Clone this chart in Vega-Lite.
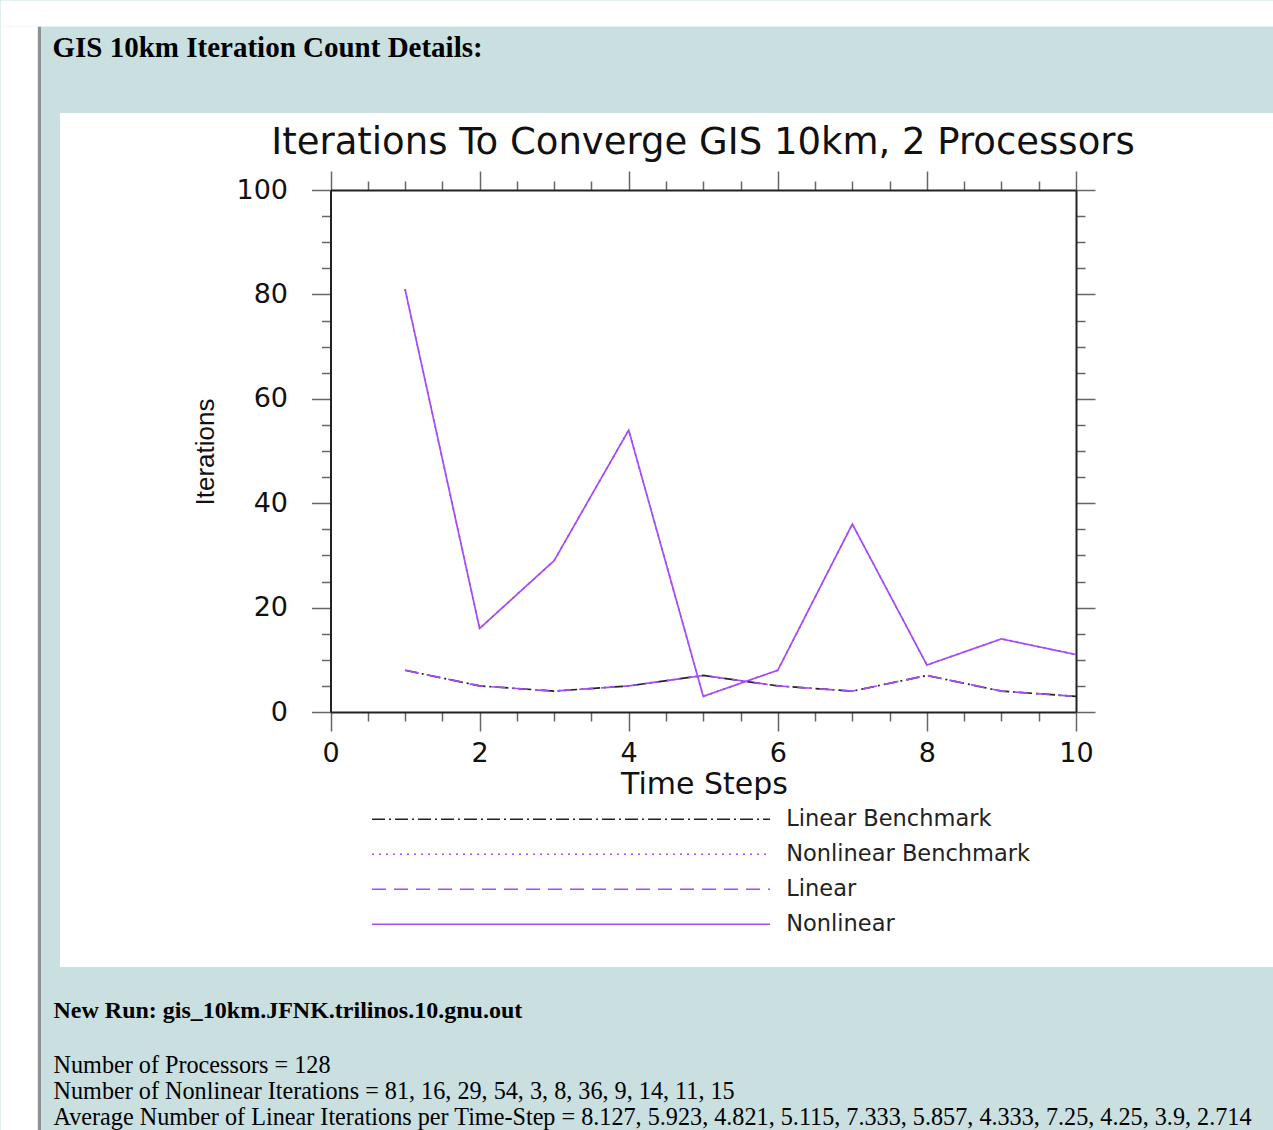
{
  "$schema": "https://vega.github.io/schema/vega-lite/v6.json",
  "autosize": {"type": "none"},
  "width": 1213,
  "height": 854,
  "padding": {"left": 60, "top": 113, "right": 0, "bottom": 163},
  "background": "#c9dfe0",
  "config": {
    "view": {"fill": "white", "stroke": null},
    "legend": {
      "orient": "none",
      "legendX": 400,
      "legendY": 695,
      "padding": 0,
      "title": null,
      "symbolType": "M-39.8,0H39.8",
      "symbolSize": 100,
      "symbolStrokeWidth": 1.6,
      "symbolOffset": 99.75,
      "labelOffset": 204,
      "labelLimit": 0,
      "labelFont": "DejaVu Sans",
      "labelFontSize": 22.5,
      "labelColor": "#222222",
      "rowPadding": 12
    },
    "axis": {
      "domainColor": "#222222",
      "domainWidth": 2,
      "tickColor": "#666666",
      "tickWidth": 1.5,
      "labelFont": "DejaVu Sans",
      "labelFontSize": 27,
      "labelColor": "#111111",
      "labelFlush": false,
      "labelOverlap": false,
      "labelBound": false,
      "grid": false,
      "titleColor": "#111111"
    }
  },
  "data": {
    "values": [
      {"series": "Linear Benchmark", "step": 1, "value": 8},
      {"series": "Linear Benchmark", "step": 2, "value": 5},
      {"series": "Linear Benchmark", "step": 3, "value": 4},
      {"series": "Linear Benchmark", "step": 4, "value": 5},
      {"series": "Linear Benchmark", "step": 5, "value": 7},
      {"series": "Linear Benchmark", "step": 6, "value": 5},
      {"series": "Linear Benchmark", "step": 7, "value": 4},
      {"series": "Linear Benchmark", "step": 8, "value": 7},
      {"series": "Linear Benchmark", "step": 9, "value": 4},
      {"series": "Linear Benchmark", "step": 10, "value": 3},
      {"series": "Nonlinear Benchmark", "step": 1, "value": 81},
      {"series": "Nonlinear Benchmark", "step": 2, "value": 16},
      {"series": "Nonlinear Benchmark", "step": 3, "value": 29},
      {"series": "Nonlinear Benchmark", "step": 4, "value": 54},
      {"series": "Nonlinear Benchmark", "step": 5, "value": 3},
      {"series": "Nonlinear Benchmark", "step": 6, "value": 8},
      {"series": "Nonlinear Benchmark", "step": 7, "value": 36},
      {"series": "Nonlinear Benchmark", "step": 8, "value": 9},
      {"series": "Nonlinear Benchmark", "step": 9, "value": 14},
      {"series": "Nonlinear Benchmark", "step": 10, "value": 11},
      {"series": "Linear", "step": 1, "value": 8},
      {"series": "Linear", "step": 2, "value": 5},
      {"series": "Linear", "step": 3, "value": 4},
      {"series": "Linear", "step": 4, "value": 5},
      {"series": "Linear", "step": 5, "value": 7},
      {"series": "Linear", "step": 6, "value": 5},
      {"series": "Linear", "step": 7, "value": 4},
      {"series": "Linear", "step": 8, "value": 7},
      {"series": "Linear", "step": 9, "value": 4},
      {"series": "Linear", "step": 10, "value": 3},
      {"series": "Nonlinear", "step": 1, "value": 81},
      {"series": "Nonlinear", "step": 2, "value": 16},
      {"series": "Nonlinear", "step": 3, "value": 29},
      {"series": "Nonlinear", "step": 4, "value": 54},
      {"series": "Nonlinear", "step": 5, "value": 3},
      {"series": "Nonlinear", "step": 6, "value": 8},
      {"series": "Nonlinear", "step": 7, "value": 36},
      {"series": "Nonlinear", "step": 8, "value": 9},
      {"series": "Nonlinear", "step": 9, "value": 14},
      {"series": "Nonlinear", "step": 10, "value": 11}
    ]
  },
  "layer": [
    {
      "mark": {"type": "line", "strokeWidth": 1.7},
      "encoding": {
        "x": {
          "field": "step",
          "type": "quantitative",
          "scale": {"domain": [0, 10], "range": [270.5, 1016], "nice": false, "zero": false},
          "axis": {
            "orient": "bottom",
            "offset": -255,
            "values": [0, 0.5, 1, 1.5, 2, 2.5, 3, 3.5, 4, 4.5, 5, 5.5, 6, 6.5, 7, 7.5, 8, 8.5, 9, 9.5, 10],
            "labelExpr": "datum.value % 2 === 0 ? format(datum.value, 'd') : ''",
            "tickSize": {"condition": {"test": "datum.value % 2 === 0", "value": 19}, "value": 9},
            "labelPadding": 9,
            "title": "Time Steps",
            "titleFont": "DejaVu Sans",
            "titleFontSize": 30,
            "titleFontWeight": "normal",
            "titleX": 644,
            "titleY": 81,
            "titleAlign": "center",
            "titleBaseline": "alphabetic"
          }
        },
        "y": {
          "field": "value",
          "type": "quantitative",
          "scale": {"domain": [0, 100], "range": [599, 77], "nice": false, "zero": false},
          "axis": {
            "orient": "left",
            "offset": -270.5,
            "values": [0, 5, 10, 15, 20, 25, 30, 35, 40, 45, 50, 55, 60, 65, 70, 75, 80, 85, 90, 95, 100],
            "labelExpr": "datum.value % 20 === 0 ? datum.label : ''",
            "tickSize": {"condition": {"test": "datum.value % 20 === 0", "value": 19}, "value": 9},
            "labelPadding": 24,
            "title": "Iterations",
            "titleFont": "Liberation Sans",
            "titleFontSize": 26,
            "titleFontWeight": "normal",
            "titleAngle": -90,
            "titleX": -117.5,
            "titleY": 338.5,
            "titleAlign": "center",
            "titleBaseline": "alphabetic"
          }
        },
        "stroke": {
          "field": "series",
          "type": "nominal",
          "scale": {
            "domain": ["Linear Benchmark", "Nonlinear Benchmark", "Linear", "Nonlinear"],
            "range": ["#222222", "#a44cf5", "#a44cf5", "#a44cf5"]
          },
          "legend": {"title": null}
        },
        "strokeDash": {
          "field": "series",
          "type": "nominal",
          "scale": {
            "domain": ["Linear Benchmark", "Nonlinear Benchmark", "Linear", "Nonlinear"],
            "range": [[13, 4, 2, 4], [2, 5], [14, 8], [1, 0]]
          },
          "legend": {"title": null}
        }
      }
    },
    {
      "mark": {"type": "line", "opacity": 0},
      "encoding": {
        "x": {
          "field": "step",
          "type": "quantitative",
          "scale": {"domain": [0, 10], "range": [270.5, 1016], "nice": false, "zero": false},
          "axis": {
            "orient": "top",
            "offset": -77,
            "values": [0, 0.5, 1, 1.5, 2, 2.5, 3, 3.5, 4, 4.5, 5, 5.5, 6, 6.5, 7, 7.5, 8, 8.5, 9, 9.5, 10],
            "labels": false,
            "tickSize": {"condition": {"test": "datum.value % 2 === 0", "value": 19}, "value": 9},
            "title": "Iterations To Converge GIS 10km, 2 Processors",
            "titleFont": "DejaVu Sans",
            "titleFontSize": 37,
            "titleFontWeight": "normal",
            "titleX": 642.5,
            "titleY": -37,
            "titleAlign": "center",
            "titleBaseline": "alphabetic"
          }
        },
        "y": {
          "field": "value",
          "type": "quantitative",
          "scale": {"domain": [0, 100], "range": [599, 77], "nice": false, "zero": false},
          "axis": {
            "orient": "right",
            "offset": -197,
            "values": [0, 5, 10, 15, 20, 25, 30, 35, 40, 45, 50, 55, 60, 65, 70, 75, 80, 85, 90, 95, 100],
            "labels": false,
            "tickSize": {"condition": {"test": "datum.value % 20 === 0", "value": 19}, "value": 9},
            "title": "New Run: gis_10km.JFNK.trilinos.10.gnu.out",
            "titleFont": "Liberation Serif",
            "titleFontSize": 24,
            "titleFontWeight": "bold",
            "titleColor": "#000000",
            "titleAngle": 0,
            "titleX": -1023,
            "titleY": 904,
            "titleAlign": "left",
            "titleBaseline": "alphabetic"
          }
        }
      }
    },
    {
      "mark": {"type": "line", "opacity": 0},
      "encoding": {
        "x": {
          "field": "step",
          "type": "quantitative",
          "scale": {"domain": [0, 1273], "range": [-60, 1213], "nice": false, "zero": false},
          "axis": {
            "orient": "top",
            "offset": 100,
            "values": [38.5],
            "labels": false,
            "ticks": false,
            "domainColor": "white",
            "domainWidth": 26,
            "grid": true,
            "gridColor": "#8d9196",
            "gridWidth": 3,
            "title": "GIS 10km Iteration Count Details:",
            "titleFont": "Liberation Serif",
            "titleFontSize": 29,
            "titleFontWeight": "bold",
            "titleColor": "#000000",
            "titleX": -8,
            "titleY": 43,
            "titleAlign": "left",
            "titleBaseline": "alphabetic"
          }
        },
        "y": {
          "field": "value",
          "type": "quantitative",
          "scale": {"domain": [0, 1130], "range": [1017, -87], "nice": false, "zero": false},
          "axis": {
            "orient": "left",
            "offset": 41.5,
            "values": [0],
            "labels": false,
            "ticks": false,
            "domainColor": "white",
            "domainWidth": 37,
            "title": [
              "Number of Processors = 128",
              "Number of Nonlinear Iterations = 81, 16, 29, 54, 3, 8, 36, 9, 14, 11, 15",
              "Average Number of Linear Iterations per Time-Step = 8.127, 5.923, 4.821, 5.115, 7.333, 5.857, 4.333, 7.25, 4.25, 3.9, 2.714"
            ],
            "titleFont": "Liberation Serif",
            "titleFontSize": 24.2,
            "titleFontWeight": "normal",
            "titleColor": "#000000",
            "titleLineHeight": 26,
            "titleAngle": 0,
            "titleX": 34.5,
            "titleY": 959,
            "titleAlign": "left",
            "titleBaseline": "alphabetic"
          }
        }
      }
    }
  ],
  "resolve": {"scale": {"x": "independent", "y": "independent"}}
}
